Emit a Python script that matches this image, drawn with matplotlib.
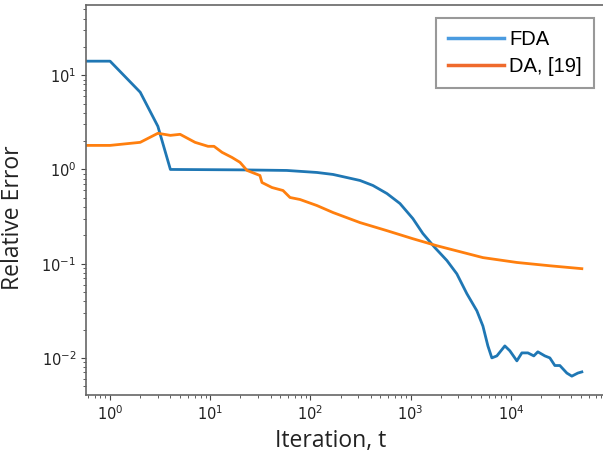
#!/usr/bin/env python

# Relative error vs iteration for FDA and DA (log-log)

import matplotlib
matplotlib.use('Agg')
import matplotlib.pyplot as plt
from matplotlib.lines import Line2D

# FDA series
fda_t = [0.5, 1, 2, 3, 4, 20, 58, 116, 168, 312, 420, 580, 782, 1052, 1324,
         1745, 2300, 2890, 3640, 4580, 5260, 5900, 6460, 7250, 8710, 9770,
         11480, 12880, 14790, 16950, 18590, 21840, 24500, 27480, 30830,
         36220, 40600, 46600, 51100]
fda_err = [14.1, 14.1, 6.6, 2.87, 1.0, 0.99, 0.976, 0.929, 0.885, 0.764,
           0.676, 0.555, 0.435, 0.301, 0.209, 0.148, 0.108, 0.078, 0.048,
           0.0316, 0.0218, 0.0134, 0.0100, 0.0105, 0.0134, 0.0119, 0.0093,
           0.0113, 0.0113, 0.0105, 0.0116, 0.0105, 0.0100, 0.0083, 0.0083,
           0.0069, 0.0064, 0.0069, 0.0071]

# DA, [19] series
da_t = [0.5, 1, 2, 3, 4, 5, 7.05, 9.5, 10.9, 13.1, 16.5, 19.8, 23.3, 31.3,
        32.8, 41.3, 53.2, 62.5, 78.6, 116, 168, 312, 580, 1052, 1828, 5260,
        11480, 24500, 51100]
da_err = [1.8, 1.8, 1.94, 2.42, 2.3, 2.36, 1.94, 1.76, 1.76, 1.52, 1.34,
          1.19, 0.976, 0.863, 0.727, 0.643, 0.598, 0.504, 0.480, 0.414,
          0.349, 0.273, 0.224, 0.184, 0.155, 0.116, 0.103, 0.095, 0.0885]

labels = ['FDA', 'DA, [19]']


def main():
    fig = plt.figure(figsize=(6.03, 4.57), dpi=100)
    ax = fig.add_axes([0.1426, 0.1357, 0.8607, 0.8533])

    ax.plot(fda_t, fda_err, color='#1f77b4', lw=2.0)
    ax.plot(da_t, da_err, color='#ff7f0e', lw=2.0)

    ax.set_xscale('log')
    ax.set_yscale('log')
    ax.set_xlim(0.575, 87000)
    ax.set_ylim(0.00404, 55.6)

    for s in ax.spines.values():
        s.set_color('#666666')
        s.set_linewidth(1.2)
    ax.tick_params(which='both', colors='#444444', labelsize=10.5,
                   labelcolor='#222222')

    lab_font = ['Open Sans', 'DejaVu Sans']
    ax.set_xlabel('Iteration, t', fontsize=16.5, family=lab_font, color='#222222')
    ax.set_ylabel('Relative Error', fontsize=16.5, family=lab_font, color='#222222')
    ax.xaxis.set_label_coords(0.472, -0.088)
    ax.yaxis.set_label_coords(-0.118, 0.454)

    handles = [Line2D([], [], color='#4a9be0', lw=2.5),
               Line2D([], [], color='#ef6a2c', lw=2.5)]
    leg = ax.legend(handles, labels, loc='upper right', fancybox=False,
                    bbox_to_anchor=(0.979, 0.967), borderaxespad=0,
                    handlelength=2.8, handletextpad=0.25, borderpad=0.6,
                    labelspacing=0.4,
                    prop={'family': ['Liberation Sans', 'DejaVu Sans'], 'size': 14.5})
    leg.get_frame().set_edgecolor('#808080')
    leg.get_frame().set_linewidth(1.5)

    fig.savefig('out.png', dpi=100)


if __name__ == '__main__':
    main()
